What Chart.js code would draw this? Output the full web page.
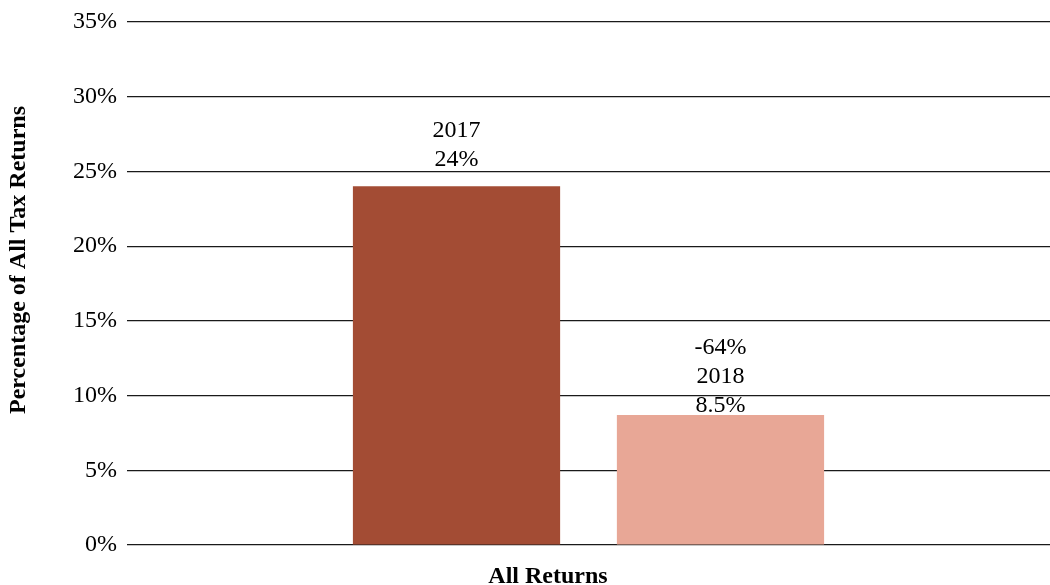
<!DOCTYPE html>
<html>
<head>
<meta charset="utf-8">
<script src="https://cdn.jsdelivr.net/npm/chart.js@4/dist/chart.umd.min.js"></script>
<style>
  html, body { margin: 0; padding: 0; background: #fff; }
  #wrap { width: 1050px; height: 585px; position: relative; }
</style>
</head>
<body>
<div id="wrap"><canvas id="taxChart"></canvas></div>
<script>
// data
const categories = ['All Returns'];
const seriesNames = ['2017', '2018'];
const values2017 = [24];
const values2018 = [8.7];
const barLabels = [['2017', '24%'], ['-64%', '2018', '8.5%']];
const yTicks = [0, 5, 10, 15, 20, 25, 30, 35];

const FONT = '"Liberation Serif", "Times New Roman", serif';

// draws the text above bars + the two axis titles
const labelPlugin = {
  id: 'labelPlugin',
  afterDatasetsDraw(chart, args, opts) {
    const ctx = chart.ctx;
    ctx.save();
    ctx.fillStyle = '#000';
    ctx.textAlign = 'center';
    ctx.textBaseline = 'alphabetic';
    ctx.font = '24px ' + FONT;
    chart.data.datasets.forEach((ds, i) => {
      const bar = chart.getDatasetMeta(i).data[0];
      const lines = barLabels[i];
      let y = bar.y - opts.gaps[i];
      for (let k = lines.length - 1; k >= 0; k--) {
        ctx.fillText(lines[k], bar.x, y);
        y -= 29;
      }
    });

    // x category title
    ctx.font = 'bold 24px ' + FONT;
    ctx.fillText(categories[0], 548, 583);

    // y title
    ctx.translate(19, 260);
    ctx.rotate(-Math.PI / 2);
    ctx.textBaseline = 'middle';
    ctx.fillText('Percentage of All Tax Returns', 0, 0);
    ctx.restore();
  }
};

const ctx = document.getElementById('taxChart').getContext('2d');
const chart = new Chart(ctx, {
  type: 'bar',
  data: {
    labels: categories,
    datasets: [
      { label: seriesNames[0], data: values2017, backgroundColor: '#a34c34' },
      { label: seriesNames[1], data: values2018, backgroundColor: '#e8a796' }
    ]
  },
  options: {
    responsive: true,
    maintainAspectRatio: false,
    animation: false,
    categoryPercentage: 0.572,
    barPercentage: 0.785,
    layout: { padding: { top: 22, bottom: 40, left: 2, right: 0 } },
    plugins: {
      legend: { display: false },
      tooltip: { enabled: false },
      labelPlugin: { gaps: [20, 3] }
    },
    scales: {
      x: { display: false },
      y: {
        min: 0,
        max: 35,
        afterFit: (scale) => {
          scale.width = 125;
          scale.paddingTop = 0;
          scale.paddingBottom = 0;
        },
        afterBuildTicks: (scale) => { scale.ticks = yTicks.map(v => ({ value: v })); },
        border: { display: false },
        grid: { color: '#1a1a1a', lineWidth: 1.2, drawTicks: false },
        ticks: {
          padding: 10,
          color: '#000',
          font: { family: FONT, size: 24 },
          callback: (v) => v + '%'
        }
      }
    }
  },
  plugins: [labelPlugin]
});
</script>
</body>
</html>
